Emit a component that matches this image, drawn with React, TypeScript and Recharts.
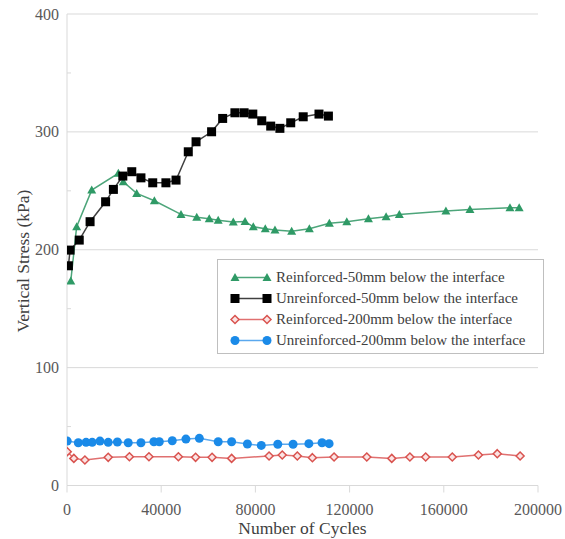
import React from "react";
import { LineChart, Line, XAxis, YAxis, ReferenceLine } from "recharts";

// values
const reinf50Cycles = [1600, 4100, 10500, 21800, 23900, 29600, 37100, 48400, 55100, 60400, 64200, 70600, 75600, 79100, 84200, 88300, 95400, 102900, 111400, 118800, 128000, 135500, 141100, 160900, 171100, 188100, 192000];
const reinf50Stress = [173.5, 219.5, 250.6, 264.8, 257.7, 247.8, 241.6, 230, 227.5, 226.3, 225, 223.5, 224, 219.5, 217.8, 216.7, 215.6, 217.8, 222.4, 223.8, 226.3, 228, 230, 232.8, 234.2, 235.6, 235.6];

const unreinf50Cycles = [600, 1300, 5200, 9800, 16400, 19700, 23700, 27500, 31400, 36400, 42000, 46300, 51500, 54800, 61400, 66100, 71300, 75200, 78900, 82700, 86500, 90400, 95000, 100300, 107000, 111000];
const unreinf50Stress = [186.4, 199.7, 208.2, 223.8, 240.7, 251.2, 262.5, 266.2, 261, 256.8, 256.8, 259.1, 283.1, 291.6, 300.1, 311.4, 316.2, 316.2, 315.1, 309.4, 304.9, 303, 307.7, 312.8, 315.1, 313.4];

const reinf200Cycles = [100, 2900, 7600, 17500, 26500, 34800, 47300, 54600, 61600, 69900, 85800, 91400, 97800, 104200, 113400, 127300, 137900, 145600, 152300, 163600, 174700, 182700, 192400];
const reinf200Stress = [28.7, 23, 21.6, 23.9, 24.4, 24.4, 24.4, 23.9, 23.9, 23, 25, 25.9, 25, 23.6, 24.2, 24.2, 23, 24.2, 24.2, 24.2, 25.9, 27, 25];

const unreinf200Cycles = [100, 4800, 8100, 10700, 14000, 17500, 21400, 26000, 31400, 36900, 39200, 44700, 50500, 56200, 64200, 69900, 76600, 82500, 89500, 96000, 102700, 108300, 111300];
const unreinf200Stress = [37.7, 36.3, 36.6, 36.6, 37.7, 36.6, 36.9, 36.3, 36.3, 37.1, 37.1, 38, 39.4, 40, 37.1, 37.1, 35.2, 34, 35, 35, 35.5, 36.3, 35.5];

const xTicks = [0, 40000, 80000, 120000, 160000, 200000];
const yTicks = [0, 50, 100, 150, 200, 250, 300, 350, 400];
const gridValues = [100, 200, 300, 400];

const seriesNames = [
  "Reinforced-50mm below the interface",
  "Unreinforced-50mm below the interface",
  "Reinforced-200mm below the interface",
  "Unreinforced-200mm below the interface",
];

const toPoints = (cycles: number[], stress: number[]) =>
  cycles.map((c, i) => ({ cycles: c, stress: stress[i] }));

const GREEN = "#2f9a66";
const BLACK = "#000000";
const RED = "#d9534f";
const BLUE = "#1a8ae8";
const AXIS = "#d9d9d9";
const TEXT = "#595959";
const FONT = '"Times New Roman", Times, Tinos, "Noto Serif", "Liberation Serif", "DejaVu Serif", serif';

const Triangle = ({ cx, cy }: any) => (
  <polygon points={`${cx},${cy - 4.5} ${cx - 4.5},${cy + 3.5} ${cx + 4.5},${cy + 3.5}`} fill={GREEN} />
);
const Square = ({ cx, cy }: any) => <rect x={cx - 4.5} y={cy - 4.5} width={9} height={9} fill={BLACK} />;
const Diamond = ({ cx, cy }: any) => (
  <polygon
    points={`${cx},${cy - 4} ${cx + 4},${cy} ${cx},${cy + 4} ${cx - 4},${cy}`}
    fill="#fbe4e4"
    stroke={RED}
    strokeWidth={1.5}
  />
);
const Circle = ({ cx, cy }: any) => <circle cx={cx} cy={cy} r={4.5} fill={BLUE} />;

const markers = [Triangle, Square, Diamond, Circle];
const lineColors = ["#4da57a", "#404040", "#e07070", "#5aa8ee"];

const YTick = ({ x, y, payload }: any) => {
  const axisX = x + 8;
  if (payload.value % 100 !== 0) {
    return <line x1={axisX} x2={axisX + 4} y1={y} y2={y} stroke={AXIS} />;
  }
  return (
    <text x={x} y={y} dy="0.35em" textAnchor="end" fill={TEXT} fontSize={16} style={{ fontFamily: FONT }}>
      {payload.value}
    </text>
  );
};

const ChartLegend = () => (
  <div
    style={{
      position: "absolute",
      left: 217,
      top: 259,
      width: 327,
      height: 95,
      border: "1px solid #bfbfbf",
      background: "#fff",
      boxSizing: "border-box",
    }}
  >
    {seriesNames.map((name, i) => {
      const M = markers[i];
      return (
        <div key={name} style={{ position: "absolute", left: 0, top: 7 + i * 21, height: 21, display: "flex", alignItems: "center" }}>
          <svg width={58} height={21}>
            <line x1={17} x2={49} y1={10.5} y2={10.5} stroke={lineColors[i]} strokeWidth={1.5} />
            <M cx={17} cy={10.5} />
            <M cx={49} cy={10.5} />
          </svg>
          <span style={{ fontFamily: FONT, fontSize: 15, color: "#404040", whiteSpace: "nowrap" }}>{name}</span>
        </div>
      );
    })}
  </div>
);

const series = [
  toPoints(reinf50Cycles, reinf50Stress),
  toPoints(unreinf50Cycles, unreinf50Stress),
  toPoints(reinf200Cycles, reinf200Stress),
  toPoints(unreinf200Cycles, unreinf200Stress),
];

export default function App() {
  return (
    <div style={{ position: "absolute", left: 0, top: 0, width: 565, height: 539, background: "#fff", fontFamily: FONT }}>
      <LineChart width={565} height={539} margin={{ top: 14, right: 27, bottom: 0.5, left: 7 }} style={{ fontFamily: FONT }}>
        {gridValues.map((v) => (
          <ReferenceLine key={v} y={v} stroke={AXIS} strokeWidth={1} />
        ))}
        <XAxis
          dataKey="cycles"
          type="number"
          domain={[0, 200000]}
          ticks={xTicks}
          allowDataOverflow
          height={53}
          stroke={AXIS}
          tickSize={7}
          tickMargin={11}
          tick={{ fill: TEXT, fontSize: 16, fontFamily: FONT }}
          label={{ value: "Number of Cycles", position: "insideBottom", offset: 4.5, fill: "#404040", fontSize: 17.5, fontFamily: FONT }}
        />
        <YAxis
          type="number"
          domain={[0, 400]}
          ticks={yTicks}
          interval={0}
          width={60}
          stroke={AXIS}
          tickLine={false}
          tickSize={4}
          tickMargin={4}
          tick={<YTick />}
          label={{
            content: () => (
              <text
                x={23}
                y={261}
                transform="rotate(-90 23 261)"
                textAnchor="middle"
                dominantBaseline="central"
                fill="#404040"
                fontSize={17.5}
                style={{ fontFamily: FONT }}
              >
                Vertical Stress (kPa)
              </text>
            ),
          }}
        />
        {series.map((data, i) => {
          const M = markers[i];
          return (
            <Line
              key={seriesNames[i]}
              data={data}
              dataKey="stress"
              name={seriesNames[i]}
              stroke={lineColors[i]}
              strokeWidth={1.5}
              dot={(p: any) => <M key={`${i}-${p.index}`} cx={p.cx} cy={p.cy} />}
              activeDot={false}
              isAnimationActive={false}
            />
          );
        })}
      </LineChart>
      <ChartLegend />
    </div>
  );
}
